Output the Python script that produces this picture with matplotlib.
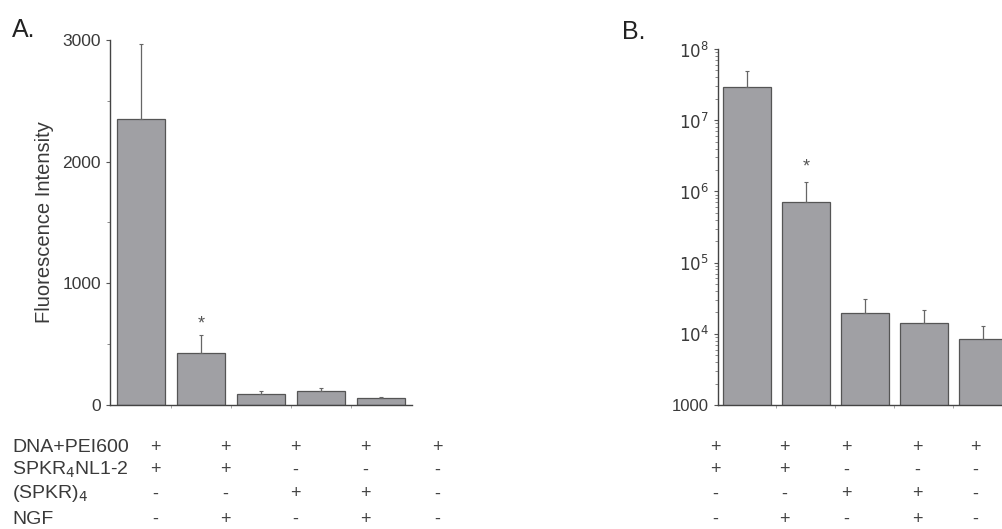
import matplotlib
matplotlib.use("Agg")
import matplotlib.pyplot as plt
import numpy as np
from matplotlib.ticker import FuncFormatter, LogLocator, MultipleLocator

plt.rcParams['font.family'] = ['Liberation Sans', 'DejaVu Sans']

# panel A: fluorescence intensity
a_means = [2350, 425, 90, 115, 57]
a_err = [620, 150, 25, 25, 8]

# panel B: log scale
b_means = [2.9e7, 7.1e5, 1.96e4, 1.41e4, 8.5e3]
b_err = [2.0e7, 6.4e5, 1.1e4, 7.5e3, 4.5e3]

row_names = ["DNA+PEI600", "SPKR$_4$NL1-2", "(SPKR)$_4$", "NGF"]
conditions = [
    ["+", "+", "+", "+", "+"],
    ["+", "+", "-", "-", "-"],
    ["-", "-", "+", "+", "-"],
    ["-", "+", "-", "+", "-"],
]

W, H = 1003, 529
bar_col = "#a0a0a4"
edge_col = "#555555"
txt_col = "#3a3a3a"

fig = plt.figure(figsize=(W / 100, H / 100), dpi=100)

def style_axes(ax):
    for s in ["top", "right"]:
        ax.spines[s].set_visible(False)
    for s in ["left", "bottom"]:
        ax.spines[s].set_color("#444444")
        ax.spines[s].set_linewidth(1.0)
    ax.tick_params(axis="y", colors="#555555", labelcolor=txt_col, labelsize=12.5, length=3, width=0.8)
    ax.tick_params(axis="y", which="minor", length=2, width=0.6, colors="#777777")
    ax.set_xticks([0.5, 1.5, 2.5, 3.5])
    ax.set_xticklabels([])
    ax.tick_params(axis="x", length=2, width=0.6, colors="#999999")

x = np.arange(len(a_means))

# ---- A
axA = fig.add_axes([110 / W, 1 - 405 / H, 302 / W, 365 / H])
axA.bar(x, a_means, width=0.8, color=bar_col, edgecolor=edge_col, linewidth=0.9)
axA.errorbar(x, a_means, yerr=[np.zeros(5), a_err], fmt="none", ecolor="#666666",
             elinewidth=0.9, capsize=1.5, capthick=0.8)
axA.set_xlim(-0.517, 4.517)
axA.set_ylim(0, 3000)
axA.set_yticks([0, 1000, 2000, 3000])
axA.yaxis.set_minor_locator(MultipleLocator(500))
style_axes(axA)
axA.set_ylabel("Fluorescence Intensity", fontsize=14.5, color=txt_col, labelpad=6)
axA.text(1, a_means[1] + a_err[1] + 90, "*", ha="center", va="center", fontsize=13, color="#555555")

# ---- B
axB = fig.add_axes([718 / W, 1 - 405 / H, 292 / W, 356 / H])
axB.set_yscale("log")
axB.bar(x, b_means, width=0.81, color=bar_col, edgecolor=edge_col, linewidth=0.9)
axB.errorbar(x, b_means, yerr=[np.zeros(5), b_err], fmt="none", ecolor="#666666",
             elinewidth=0.9, capsize=1.5, capthick=0.8)
axB.set_xlim(-0.49, 4.46)
axB.set_ylim(1e3, 1e8)
axB.set_yticks([1e3, 1e4, 1e5, 1e6, 1e7, 1e8])
axB.yaxis.set_minor_locator(LogLocator(base=10, subs=np.arange(2, 10)))
axB.yaxis.set_major_formatter(FuncFormatter(
    lambda v, p: "1000" if v < 5e3 else "$10^{%d}$" % round(np.log10(v))))
style_axes(axB)
axB.tick_params(axis="y", labelsize=12)
axB.text(1, (b_means[1] + b_err[1]) * 1.65, "*", ha="center", va="center", fontsize=13, color="#555555")

# panel letters
fig.text(12 / W, 1 - 30 / H, "A.", fontsize=18, color="#222222", va="center")
fig.text(622 / W, 1 - 32 / H, "B.", fontsize=18, color="#222222", va="center")

# condition table under the bars
row_y = [447, 470, 494, 519]
colsA = [155, 225, 295, 365, 437]
colsB = [715, 784, 846, 917, 975]
for r, name in enumerate(row_names):
    fig.text(12 / W, 1 - row_y[r] / H, name, fontsize=14, color=txt_col, va="center")
    for c, sign in enumerate(conditions[r]):
        for xs in (colsA, colsB):
            fig.text(xs[c] / W, 1 - row_y[r] / H, sign, fontsize=13, color="#444444",
                     ha="center", va="center")

fig.savefig("out.png", dpi=100)
